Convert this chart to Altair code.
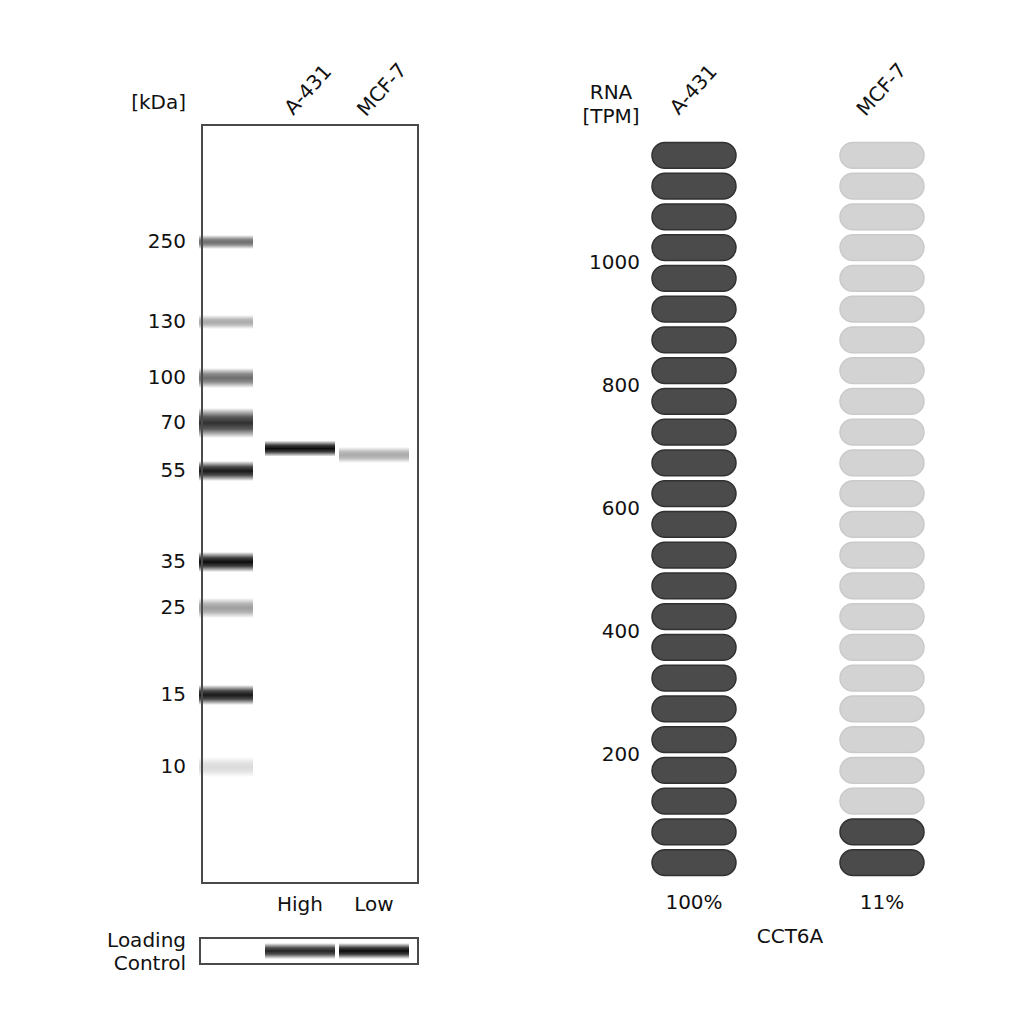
import math
import altair as alt
import pandas as pd

# ---------------- data ----------------
marker_kda = [250, 130, 100, 70, 55, 35, 25, 15, 10]
marker_intensity = [0.6, 0.35, 0.6, 0.85, 0.95, 1.0, 0.4, 0.95, 0.15]
lanes = ["Ladder", "A-431", "MCF-7"]
samples = ["A-431", "MCF-7"]
band_kda = [62, 60]
band_intensity = [1.0, 0.35]
loading_intensity = [0.9, 1.0]
expression_level = ["High", "Low"]
rna_tpm = [1200, 130]
gene = "CCT6A"
tpm_ticks = [200, 400, 600, 800, 1000]
pill_step = 50

# ---------------- style / layout ----------------
FONT = "DejaVu Sans"
TXT = "#111111"
FS = 20

kda_px = [234, 314, 370, 415, 463, 554, 600, 687, 759]
lane_scale = alt.Scale(type="point", domain=lanes, range=[218, 366], padding=0)
kda_scale = alt.Scale(type="linear", domain=marker_kda, range=kda_px, nice=False, zero=False)
rna_x = alt.Scale(type="band", domain=samples, range=[644, 916], paddingInner=0.5532, paddingOuter=0)
rna_y = alt.Scale(type="linear", domain=[0, 1200], range=[870, 132], nice=False, zero=False)


def band_gradient():
    return alt.LinearGradient(
        gradient="linear", x1=0, x2=0, y1=0, y2=1,
        stops=[
            alt.GradientStop(color="rgba(12,12,12,0)", offset=0),
            alt.GradientStop(color="rgba(12,12,12,0.8)", offset=0.3),
            alt.GradientStop(color="rgba(12,12,12,1)", offset=0.5),
            alt.GradientStop(color="rgba(12,12,12,0.8)", offset=0.7),
            alt.GradientStop(color="rgba(12,12,12,0)", offset=1),
        ],
    )


one = pd.DataFrame({"k": [0]})

# ---------------- blot panel ----------------
ladder_df = pd.DataFrame({"lane": "Ladder", "kda": marker_kda, "intensity": marker_intensity})
sample_df = pd.DataFrame({"lane": samples, "kda": band_kda, "intensity": band_intensity,
                          "level": expression_level})
loading_df = pd.DataFrame({"lane": samples, "intensity": loading_intensity})


def ladder_layer(sel, thickness):
    return (
        alt.Chart(ladder_df)
        .transform_filter(alt.FieldOneOfPredicate(field="kda", oneOf=sel))
        .mark_tick(orient="horizontal", size=54, thickness=thickness, color=band_gradient(), filled=True)
        .encode(
            x=alt.X("lane:N", scale=lane_scale, axis=None),
            y=alt.Y("kda:Q", scale=kda_scale, axis=None),
            opacity=alt.Opacity("intensity:Q", scale=None, legend=None),
        )
    )


ladder_thin = ladder_layer([250, 130], 14)
ladder_mid = ladder_layer([100, 55, 35, 25, 15, 10], 20)
ladder_thick = ladder_layer([70], 30)

sample_bands = (
    alt.Chart(sample_df)
    .mark_tick(orient="horizontal", size=70, thickness=16, color=band_gradient(), filled=True)
    .encode(
        x=alt.X("lane:N", scale=lane_scale, axis=None),
        y=alt.Y("kda:Q", scale=kda_scale, axis=None),
        opacity=alt.Opacity("intensity:Q", scale=None, legend=None),
    )
)

frame = alt.Chart(one).mark_rect(fill=None, stroke="#4a4a4a", strokeWidth=2).encode(
    x=alt.value(194), x2=alt.value(410), y=alt.value(117), y2=alt.value(875)
)

kda_labels = (
    alt.Chart(ladder_df)
    .mark_text(align="right", baseline="middle", font=FONT, fontSize=FS, color=TXT)
    .encode(x=alt.value(178), y=alt.Y("kda:Q", scale=kda_scale, axis=None),
            text=alt.Text("kda:Q", format="d"))
)

kda_title = alt.Chart(one).mark_text(align="right", baseline="middle", font=FONT, fontSize=FS,
                                     color=TXT, text="[kDa]").encode(x=alt.value(178), y=alt.value(95))

lane_labels = (
    alt.Chart(sample_df)
    .mark_text(align="center", baseline="middle", angle=312, dx=7, dy=5,
               font=FONT, fontSize=FS, color=TXT)
    .encode(x=alt.X("lane:N", scale=lane_scale, axis=None), y=alt.value(84), text="lane:N")
)

level_labels = (
    alt.Chart(sample_df)
    .mark_text(align="center", baseline="middle", font=FONT, fontSize=FS, color=TXT)
    .encode(x=alt.X("lane:N", scale=lane_scale, axis=None), y=alt.value(897), text="level:N")
)

loading_bands = (
    alt.Chart(loading_df)
    .mark_tick(orient="horizontal", size=70, thickness=16, color=band_gradient(), filled=True)
    .encode(
        x=alt.X("lane:N", scale=lane_scale, axis=None),
        y=alt.value(943),
        opacity=alt.Opacity("intensity:Q", scale=None, legend=None),
    )
)

loading_box = alt.Chart(one).mark_rect(fill=None, stroke="#4a4a4a", strokeWidth=2).encode(
    x=alt.value(192), x2=alt.value(410), y=alt.value(930), y2=alt.value(956)
)

loading_text = (
    alt.Chart(pd.DataFrame({"t": ["Loading", "Control"], "row": [0, 1]}))
    .mark_text(align="right", baseline="middle", font=FONT, fontSize=FS, color=TXT)
    .encode(x=alt.value(178),
            y=alt.Y("row:O", scale=alt.Scale(type="point", domain=[0, 1], range=[933, 956], padding=0), axis=None),
            text="t:N")
)

crop_cover = alt.Chart(one).mark_rect(fill="white").encode(
    x=alt.value(70), x2=alt.value(190), y=alt.value(962), y2=alt.value(1000)
)

blot = alt.layer(
    ladder_thin, ladder_mid, ladder_thick, sample_bands, frame,
    kda_labels, kda_title, lane_labels, level_labels,
    loading_bands, loading_box, loading_text, crop_cover,
)

# ---------------- RNA panel ----------------
n_pills = math.ceil(max(rna_tpm) / pill_step)
rows = []
for s, v in zip(samples, rna_tpm):
    for i in range(n_pills):
        lo, hi = i * pill_step, (i + 1) * pill_step
        rows.append({"sample": s, "lo": lo, "hi": hi, "state": "on" if hi <= v else "off"})
pill_df = pd.DataFrame(rows)

pills = (
    alt.Chart(pill_df)
    .transform_calculate(y0="datum.lo + 4.2", y1="datum.hi - 4.2")
    .mark_bar(cornerRadius=13, strokeWidth=1.5)
    .encode(
        x=alt.X("sample:N", scale=rna_x, axis=None),
        y=alt.Y("y0:Q", scale=rna_y, axis=None),
        y2="y1:Q",
        color=alt.Color("state:N", scale=alt.Scale(domain=["on", "off"], range=["#4b4b4b", "#d3d3d3"]), legend=None),
        stroke=alt.Stroke("state:N", scale=alt.Scale(domain=["on", "off"], range=["#313131", "#cacaca"]), legend=None),
    )
)

tpm_labels = (
    alt.Chart(pd.DataFrame({"tpm": tpm_ticks}))
    .mark_text(align="right", baseline="middle", font=FONT, fontSize=FS, color=TXT)
    .encode(x=alt.value(632), y=alt.Y("tpm:Q", scale=rna_y, axis=None), text=alt.Text("tpm:Q", format="d"))
)

rna_title = (
    alt.Chart(pd.DataFrame({"t": ["RNA", "[TPM]"], "row": [0, 1]}))
    .mark_text(align="center", baseline="middle", font=FONT, fontSize=FS, color=TXT)
    .encode(x=alt.value(603),
            y=alt.Y("row:O", scale=alt.Scale(type="point", domain=[0, 1], range=[85, 109], padding=0), axis=None),
            text="t:N")
)

pct_df = pd.DataFrame({
    "sample": samples,
    "pct": [f"{round(v / max(rna_tpm) * 100)}%" for v in rna_tpm],
})

sample_labels = (
    alt.Chart(pct_df)
    .mark_text(align="center", baseline="middle", angle=312, font=FONT, fontSize=FS, color=TXT)
    .encode(x=alt.X("sample:N", scale=rna_x, axis=None), y=alt.value(82), text="sample:N")
)

pct_labels = (
    alt.Chart(pct_df)
    .mark_text(align="center", baseline="middle", font=FONT, fontSize=FS, color=TXT)
    .encode(x=alt.X("sample:N", scale=rna_x, axis=None), y=alt.value(895), text="pct:N")
)

gene_label = alt.Chart(one).mark_text(align="center", baseline="middle", font=FONT, fontSize=FS,
                                      color=TXT, text=gene).encode(x=alt.value(782), y=alt.value(929))

rna = alt.layer(pills, tpm_labels, rna_title, sample_labels, pct_labels, gene_label)

chart = (
    alt.layer(blot, rna)
    .resolve_scale(x="independent", y="independent", color="independent",
                   opacity="independent", stroke="independent")
    .properties(width=1008, height=1008, autosize=alt.AutoSizeParams(type="none"),
                padding=0, background="white")
    .configure_view(stroke=None)
)

chart.save("out.html", embed_options={"renderer": "svg", "actions": False})
